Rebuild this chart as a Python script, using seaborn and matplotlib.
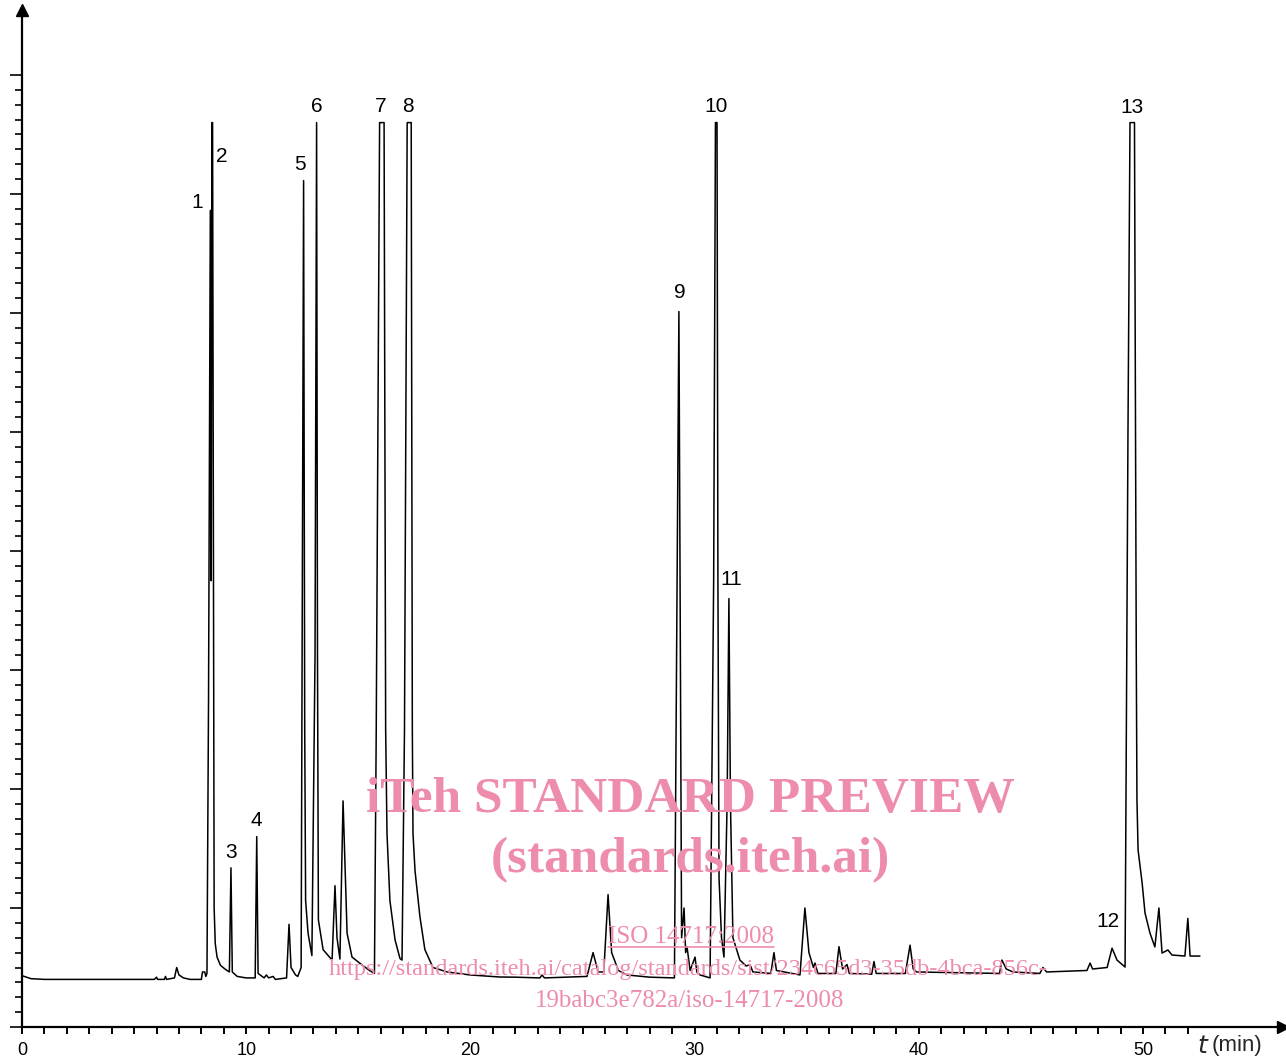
import matplotlib
matplotlib.use("Agg")
import matplotlib.pyplot as plt
from matplotlib.lines import Line2D
import numpy as np
import pandas as pd
import seaborn as sns

# chromatogram trace (t in min, signal in tick units)
time_min = [
    0.0, 0.4, 1.0, 3.0, 5.9, 6.0, 6.05, 6.35, 6.4, 6.45, 6.8, 6.9, 7.0, 7.2, 7.5,
    8.0, 8.05, 8.15, 8.2, 8.25,
    8.32, 8.40, 8.44, 8.47, 8.50, 8.54, 8.57, 8.62, 8.70, 8.85, 9.05, 9.25,
    9.32, 9.38, 9.6, 10.0, 10.4, 10.47, 10.53, 10.8, 10.9, 11.0, 11.2, 11.3, 11.8,
    11.91, 12.0, 12.2, 12.3, 12.45,
    12.56, 12.61, 12.65, 12.76, 12.93, 13.07, 13.14, 13.18, 13.22, 13.43, 13.83,
    13.96, 14.05, 14.18, 14.32, 14.50, 14.72, 15.17, 15.5, 15.72,
    15.80, 15.95, 16.15, 16.22, 16.28, 16.41, 16.64, 16.86, 16.95,
    17.06, 17.18, 17.36, 17.41, 17.44, 17.53, 17.75, 17.97, 18.33, 18.96, 19.98, 21.32,
    22.0, 23.1, 23.2, 23.3, 25.2, 25.47, 25.7, 25.95, 26.14, 26.3, 26.6, 26.98,
    28.0, 29.1, 29.30, 29.42, 29.53, 29.6, 29.66, 29.8, 30.02, 30.1, 30.24, 30.69,
    30.85, 30.93, 31.0, 31.04, 31.09, 31.2, 31.31, 31.45, 31.53, 31.60, 31.71,
    32.02, 32.3, 32.47, 32.6,
    33.4, 33.54, 33.65, 34.7, 34.92, 35.1, 35.3, 35.37, 35.5, 36.3, 36.44, 36.6,
    36.8, 36.9, 37.9, 38.0, 38.1, 39.4, 39.61, 39.75, 39.9, 43.6, 43.71, 43.9,
    44.2, 45.4, 45.54, 45.7, 47.5, 47.64, 47.75, 48.4, 48.62, 48.84, 49.20,
    49.33, 49.42, 49.62, 49.70, 49.73, 49.78, 49.96, 50.09, 50.31, 50.53, 50.71,
    50.85, 51.11, 51.29, 51.87, 52.0, 52.10, 52.54,
]
signal = [
    3.45, 3.25, 3.2, 3.2, 3.2, 3.35, 3.2, 3.2, 3.4, 3.2, 3.3, 4.0, 3.5, 3.3, 3.2,
    3.2, 3.7, 3.7, 3.4, 3.6,
    22.0, 54.9, 30.0, 60.8, 60.8, 30.0, 8.0, 5.6, 4.7, 4.15, 3.9, 3.7,
    10.7, 3.7, 3.4, 3.3, 3.3, 12.8, 3.6, 3.3, 3.5, 3.3, 3.4, 3.2, 3.3,
    6.9, 4.0, 3.5, 3.4, 4.0,
    56.9, 20.0, 8.5, 6.3, 4.8, 25.0, 60.8, 25.0, 7.2, 5.2, 4.5,
    9.5, 6.0, 4.57, 15.2, 6.3, 4.7, 4.17, 3.8, 3.6,
    20.0, 60.8, 60.8, 20.0, 13.0, 8.5, 5.85, 4.6, 4.5,
    20.0, 60.8, 60.8, 20.0, 13.0, 10.5, 7.4, 5.2, 4.0, 3.7, 3.5, 3.36,
    3.35, 3.3, 3.5, 3.3, 3.4, 5.0, 3.7, 3.7, 8.9, 5.0, 3.8, 3.5,
    3.35, 3.3, 48.1, 6.0, 8.0, 5.0, 5.4, 3.8, 4.7, 3.7, 3.5, 3.3,
    30.0, 60.8, 60.8, 30.0, 10.0, 6.0, 4.7, 15.0, 28.8, 15.0, 6.0,
    4.5, 4.1, 4.2, 3.7,
    3.6, 5.0, 3.8, 3.5, 8.0, 5.0, 4.0, 4.3, 3.6, 3.6, 5.4, 3.9,
    4.2, 3.6, 3.55, 4.4, 3.6, 3.6, 5.5, 3.9, 3.7, 3.6, 4.5, 3.9,
    3.7, 3.6, 4.0, 3.7, 3.8, 4.3, 3.9, 4.0, 5.3, 4.5, 4.03,
    40.0, 60.8, 60.8, 25.0, 15.3, 11.9, 9.7, 7.66, 6.32, 5.38, 8.0,
    4.97, 5.18, 4.84, 4.77, 7.3, 4.77, 4.77,
]

# peak numbers and where their labels sit
peak_ids = ["1", "2", "3", "4", "5", "6", "7", "8", "9", "10", "11", "12", "13"]
label_t = [7.83, 8.92, 9.32, 10.44, 12.40, 13.16, 16.01, 17.22, 29.35, 30.95, 31.62, 48.44, 49.51]
label_y = [55.4, 58.5, 11.7, 13.9, 58.0, 61.9, 61.9, 61.9, 49.4, 61.9, 30.1, 7.1, 61.8]

x_ticks = [0, 10, 20, 30, 40, 50]

df = pd.DataFrame({"t": time_min, "signal": signal})

sns.set_style("white")
plt.rcParams["font.family"] = ["Liberation Sans", "DejaVu Sans"]

fig = plt.figure(figsize=(12.86, 10.59), dpi=100)
W, H = 1286, 1059
# axes box: x=0 at px 22, y=0 at px 1027
ax = fig.add_axes([22 / W, (H - 1027) / H, (1283 - 22) / W, (1027 - 10) / H])

sns.lineplot(data=df, x="t", y="signal", ax=ax, color="black", linewidth=1.1,
             sort=False, estimator=None)

ax.set_xlim(0, (1283 - 22) / 22.42)
ax.set_ylim(0, (1027 - 10) / 14.875)

for s in ["top", "right"]:
    ax.spines[s].set_visible(False)
for s in ["left", "bottom"]:
    ax.spines[s].set_linewidth(1.6)
    ax.spines[s].set_color("black")

# arrow heads at the axis ends
ax.plot(1, 0, ">k", transform=ax.get_yaxis_transform(), clip_on=False, markersize=9)
ax.plot(0, 1, "^k", transform=ax.get_xaxis_transform(), clip_on=False, markersize=9)

ax.set_xticks(x_ticks)
ax.set_xticks(np.arange(0, 53, 1), minor=True)
ax.set_xticklabels([str(v) for v in x_ticks], fontsize=13)
ax.tick_params(axis="x", which="both", direction="out", length=5, width=1.4,
               colors="black", pad=6, bottom=True)

ax.set_yticks(np.arange(0, 65, 8))
ax.set_yticks(np.arange(0, 65, 1), minor=True)
ax.set_yticklabels([])
ax.tick_params(axis="y", which="major", direction="out", length=9, width=1.4, left=True)
ax.tick_params(axis="y", which="minor", direction="out", length=5, width=1.4, left=True)

ax.set_xlabel("")
ax.set_ylabel("")
ax.text(1197, H - 1046, "$t$", transform=None, fontsize=18, ha="left", va="center")
ax.text(1212, H - 1046, "(min)", transform=None, fontsize=16, ha="left", va="center")

for pid, tx, ty in zip(peak_ids, label_t, label_y):
    ax.text(tx, ty, pid, fontsize=15, ha="center", va="center", color="black")

# watermark
pink = "#ee8cab"
serif = ["Liberation Serif", "DejaVu Serif"]
fig.text(690 / W, 1 - 800 / H, "iTeh STANDARD PREVIEW", color=pink, fontsize=37,
         fontweight="bold", family=serif, ha="center", va="center")
fig.text(690 / W, 1 - 860 / H, "(standards.iteh.ai)", color=pink, fontsize=37,
         fontweight="bold", family=serif, ha="center", va="center")
iso = fig.text(691 / W, 1 - 937 / H, "ISO 14717:2008", color=pink, fontsize=18,
               family=serif, ha="center", va="center")
fig.text(688 / W, 1 - 970 / H,
         "https://standards.iteh.ai/catalog/standards/sist/234c65d3-35db-4bca-856c-",
         color=pink, fontsize=17.6, family=serif, ha="center", va="center")
fig.text(690 / W, 1 - 1001 / H, "19babc3e782a/iso-14717-2008", color=pink, fontsize=18,
         family=serif, ha="center", va="center")

fig.canvas.draw()
bb = iso.get_window_extent()
fig.add_artist(Line2D([bb.x0 / W, bb.x1 / W], [(bb.y0 + 1) / H, (bb.y0 + 1) / H],
                      color=pink, linewidth=1.2, transform=fig.transFigure))

fig.savefig("out.png", dpi=100)
